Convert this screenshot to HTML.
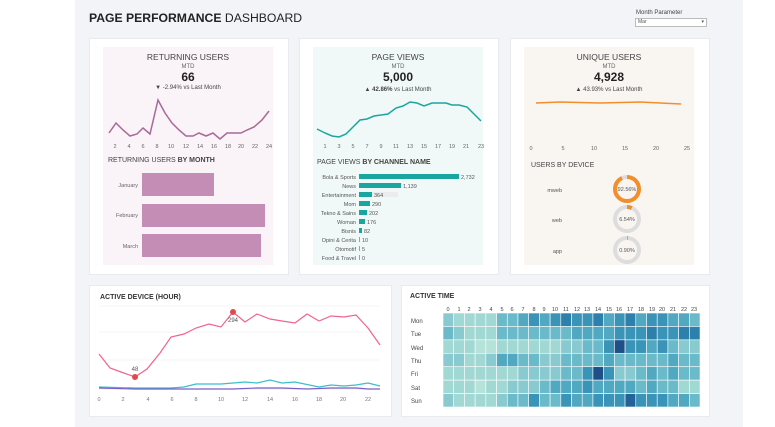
<!DOCTYPE html>
<html><head><meta charset="utf-8"><style>
body{margin:0;width:775px;height:427px;background:#fff;font-family:"Liberation Sans",sans-serif;position:relative;overflow:hidden;color:#333}
.a{position:absolute}
.card{position:absolute;background:#fff;border:1px solid #e8eaee}
.t{font-size:8.5px;color:#444;text-align:center}
.s{font-size:6px;color:#666}
</style></head><body>
<div class="a" style="left:75px;top:0;width:668px;height:427px;background:#f3f4f8"></div>
<div class="a" style="left:89px;top:11px;font-size:12.2px;color:#222"><b>PAGE PERFORMANCE</b> DASHBOARD</div>
<div class="a" style="left:636px;top:10px;font-size:6px;color:#444">Month Parameter</div>
<div class="a" style="left:635px;top:18px;width:68px;height:7px;border:1px solid #bbb;background:#fff;font-size:5px;color:#555;line-height:7px;padding-left:2px">Mar<span style="float:right;margin-right:2px">▾</span></div>

<div class="card" style="left:89px;top:38px;width:198px;height:235px"></div>
<div class="card" style="left:299px;top:38px;width:198px;height:235px"></div>
<div class="card" style="left:510px;top:38px;width:198px;height:235px"></div>
<div class="card" style="left:89px;top:285px;width:301px;height:130px"></div>
<div class="card" style="left:401px;top:285px;width:307px;height:130px"></div>

<div class="a" style="left:103px;top:47px;width:170px;height:218px;background:#faf3f8"></div>
<div class="a" style="left:313px;top:47px;width:170px;height:218px;background:#f1f8f8"></div>
<div class="a" style="left:524px;top:47px;width:170px;height:218px;background:#f9f5f1"></div>

<div class="a t" style="left:103px;top:52px;width:170px">RETURNING USERS</div>
<div class="a s" style="left:103px;top:64px;width:170px;text-align:center">MTD</div>
<div class="a" style="left:103px;top:70px;width:170px;text-align:center;font-size:12px;font-weight:bold;color:#222">66</div>
<div class="a s" style="left:103px;top:85px;width:170px;text-align:center;color:#444">▼ -2.94% vs Last Month</div>
<svg class="a" style="left:0;top:0" width="775" height="427">
<polyline fill="none" stroke="#a86a98" stroke-width="1.5" points="109,133 116,123 123,130 130,136 137,134 143,128 150,134 158,100 165,113 172,123 179,130 186,136 193,136 199,133 206,136 213,133 220,139 227,133 234,133 241,133 247,130 254,127 262,120 269,111"/>
<polyline fill="none" stroke="#1aa6a0" stroke-width="1.5" points="317,129 325,133 332,136 339,137 346,134 353,127 360,120 367,119 374,116 381,115 388,114 396,108 403,106 410,102 417,103 424,106 432,103 438,103 446,103 452,105 459,105 467,107 473,113 481,121"/>
<polyline fill="none" stroke="#f28e2b" stroke-width="1.5" points="536,103 560,102 600,103 640,102 681,104"/>
<g font-size="5.5" fill="#666" text-anchor="middle" font-family="Liberation Sans">
<text x="115" y="148">2</text><text x="129" y="148">4</text><text x="143" y="148">6</text><text x="157" y="148">8</text><text x="171" y="148">10</text><text x="186" y="148">12</text><text x="200" y="148">14</text><text x="214" y="148">16</text><text x="228" y="148">18</text><text x="241" y="148">20</text><text x="255" y="148">22</text><text x="269" y="148">24</text>
<text x="325" y="148">1</text><text x="339" y="148">3</text><text x="353" y="148">5</text><text x="367" y="148">7</text><text x="381" y="148">9</text><text x="396" y="148">11</text><text x="410" y="148">13</text><text x="424" y="148">15</text><text x="438" y="148">17</text><text x="452" y="148">19</text><text x="466" y="148">21</text><text x="481" y="148">23</text>
<text x="531" y="150">0</text><text x="563" y="150">5</text><text x="594" y="150">10</text><text x="625" y="150">15</text><text x="656" y="150">20</text><text x="687" y="150">25</text>
</g>
<rect x="142" y="173" width="72" height="23" fill="#c38db5"/>
<rect x="142" y="204" width="123" height="23" fill="#c38db5"/>
<rect x="142" y="234" width="119" height="23" fill="#c38db5"/>
<g font-size="5.5" fill="#666" text-anchor="end" font-family="Liberation Sans">
<text x="138" y="187">January</text><text x="138" y="217">February</text><text x="138" y="248">March</text>
</g>
<rect x="372" y="192" width="26" height="5" fill="#e8e8e8" opacity="0.7"/>
<g fill="#1aa6a0">
<rect x="359" y="174" width="100" height="5"/>
<rect x="359" y="183" width="42" height="5"/>
<rect x="359" y="192" width="13" height="5"/>
<rect x="359" y="201" width="11" height="5"/>
<rect x="359" y="210" width="8" height="5"/>
<rect x="359" y="219" width="6" height="5"/>
<rect x="359" y="228" width="3" height="5"/>
<rect x="359" y="237" width="0.7" height="5"/>
<rect x="359" y="246" width="0.7" height="5"/>
<rect x="359" y="255" width="0.7" height="5"/>
</g>
<g font-size="5.5" fill="#555" font-family="Liberation Sans">
<g text-anchor="end">
<text x="356" y="179">Bola &amp; Sports</text><text x="356" y="188">News</text><text x="356" y="197">Entertainment</text><text x="356" y="206">Mom</text><text x="356" y="215">Tekno &amp; Sains</text><text x="356" y="224">Woman</text><text x="356" y="233">Bisnis</text><text x="356" y="242">Opini &amp; Cerita</text><text x="356" y="251">Otomotif</text><text x="356" y="260">Food &amp; Travel</text>
</g>
<text x="461" y="179">2,732</text><text x="403" y="188">1,139</text><text x="374" y="197">364</text><text x="372" y="206">290</text><text x="369" y="215">202</text><text x="367" y="224">176</text><text x="364" y="233">82</text><text x="362" y="242">10</text><text x="362" y="251">5</text><text x="362" y="260">0</text>
<g text-anchor="end"><text x="562" y="192">mweb</text><text x="562" y="222">web</text><text x="562" y="253">app</text></g>
</g>
<g fill="none" stroke-width="4">
<circle cx="627" cy="189" r="12" stroke="#ddd"/>
<circle cx="627" cy="189" r="12" stroke="#f28e2b" stroke-dasharray="69.8 75.4" transform="rotate(-90 627 189)"/>
<circle cx="627" cy="219" r="12" stroke="#ddd"/>
<circle cx="627" cy="219" r="12" stroke="#f28e2b" stroke-dasharray="4.9 75.4" transform="rotate(-90 627 219)"/>
<circle cx="627" cy="250" r="12" stroke="#ddd"/>
<circle cx="627" cy="250" r="12" stroke="#f28e2b" stroke-dasharray="0.8 75.4" transform="rotate(-90 627 250)"/>
</g>
<g font-size="5.5" fill="#555" text-anchor="middle" font-family="Liberation Sans">
<text x="627" y="191">92.56%</text><text x="627" y="221">6.54%</text><text x="627" y="252">0.90%</text>
</g>
<g stroke="#eee" stroke-width="0.6"><line x1="99" y1="332" x2="380" y2="332"/><line x1="99" y1="360" x2="380" y2="360"/><line x1="99" y1="306" x2="380" y2="306"/></g>
<line x1="99" y1="389" x2="380" y2="389" stroke="#ddd" stroke-width="0.6"/>
<polyline fill="none" stroke="#f0648e" stroke-width="1.2" points="99,354 110,368 121,372 135,377 147,369 160,353 171,337 184,334 196,328 209,324 221,327 233,312 245,322 257,314 270,319 282,321 295,323 307,314 319,321 331,316 344,317 356,315 368,328 380,345"/>
<polyline fill="none" stroke="#3bbfc9" stroke-width="1.2" points="99,387 135,388 171,388 184,387 196,384 221,384 245,382 257,383 270,380 282,383 295,382 319,387 331,385 344,386 356,385 368,383 380,386"/>
<polyline fill="none" stroke="#7a5fc8" stroke-width="1.2" points="99,388 135,389 171,389 233,389 257,388 282,388 307,389 331,388 356,388 368,389 380,389"/>
<circle cx="135" cy="377" r="3" fill="#e04a4a"/><circle cx="233" cy="312" r="3" fill="#e04a4a"/>
<g font-size="6" fill="#555" text-anchor="middle" font-family="Liberation Sans">
<text x="135" y="371">48</text><text x="233" y="322">294</text>
</g>
<g font-size="5.5" fill="#777" text-anchor="middle" font-family="Liberation Sans">
<text x="99" y="401">0</text><text x="123" y="401">2</text><text x="148" y="401">4</text><text x="172" y="401">6</text><text x="196" y="401">8</text><text x="221" y="401">10</text><text x="245" y="401">12</text><text x="270" y="401">14</text><text x="295" y="401">16</text><text x="319" y="401">18</text><text x="343" y="401">20</text><text x="368" y="401">22</text>
</g>
<g id="hm"></g>
<g font-size="6" fill="#444" font-family="Liberation Sans">
<text x="411" y="323">Mon</text><text x="411" y="336">Tue</text><text x="411" y="350">Wed</text><text x="411" y="363">Thu</text><text x="411" y="376">Fri</text><text x="411" y="390">Sat</text><text x="411" y="403">Sun</text>
</g>
<g font-size="5.5" fill="#444" text-anchor="middle" font-family="Liberation Sans">
<text x="448" y="311">0</text><text x="459" y="311">1</text><text x="469" y="311">2</text><text x="480" y="311">3</text><text x="491" y="311">4</text><text x="502" y="311">5</text><text x="512" y="311">6</text><text x="523" y="311">7</text><text x="534" y="311">8</text><text x="544" y="311">9</text><text x="555" y="311">10</text><text x="566" y="311">11</text><text x="577" y="311">12</text><text x="587" y="311">13</text><text x="598" y="311">14</text><text x="609" y="311">15</text><text x="619" y="311">16</text><text x="630" y="311">17</text><text x="641" y="311">18</text><text x="652" y="311">19</text><text x="662" y="311">20</text><text x="673" y="311">21</text><text x="684" y="311">22</text><text x="694" y="311">23</text>
</g>
</svg>
<div class="a t" style="left:313px;top:52px;width:170px">PAGE VIEWS</div>
<div class="a s" style="left:313px;top:64px;width:170px;text-align:center">MTD</div>
<div class="a" style="left:313px;top:70px;width:170px;text-align:center;font-size:12px;font-weight:bold;color:#222">5,000</div>
<div class="a s" style="left:313px;top:87px;width:170px;text-align:center;color:#444">▲ <b>42.86%</b> vs Last Month</div>
<div class="a t" style="left:524px;top:52px;width:170px">UNIQUE USERS</div>
<div class="a s" style="left:524px;top:64px;width:170px;text-align:center">MTD</div>
<div class="a" style="left:524px;top:70px;width:170px;text-align:center;font-size:12px;font-weight:bold;color:#222">4,928</div>
<div class="a s" style="left:524px;top:87px;width:170px;text-align:center;color:#444">▲ 43.93% vs Last Month</div>
<div class="a" style="left:108px;top:157px;font-size:7px;color:#444">RETURNING USERS <b>BY MONTH</b></div>
<div class="a" style="left:317px;top:159px;font-size:7px;color:#444">PAGE VIEWS <b>BY CHANNEL NAME</b></div>
<div class="a" style="left:531px;top:162px;font-size:7px;color:#444">USERS BY DEVICE</div>
<div class="a" style="left:100px;top:294px;font-size:7px;font-weight:bold;color:#333">ACTIVE DEVICE (HOUR)</div>
<div class="a" style="left:410px;top:293px;font-size:7px;font-weight:bold;color:#333">ACTIVE TIME</div>
<script>
var d=["322224456567667567566554","432224444444555566676677","222112222223344696656433","332235544334444544444544","222222233334469633454544","222122333455565555454422","322223446446556668666554"];
var c=["#c8ebe1","#b5e2d9","#a2d8d4","#88cacf","#6bbac9","#50a8c1","#3a94b7","#2d80ac","#246398","#1e4f87"];
var s="";
for(var r=0;r<7;r++)for(var k=0;k<24;k++){s+='<rect x="'+(443+k*10.71).toFixed(2)+'" y="'+(313+r*13.43).toFixed(2)+'" width="10.71" height="13.43" fill="'+c[+d[r][k]]+'" stroke="#fff" stroke-width="0.6"/>';}
document.getElementById("hm").innerHTML=s;
</script>
</body></html>
